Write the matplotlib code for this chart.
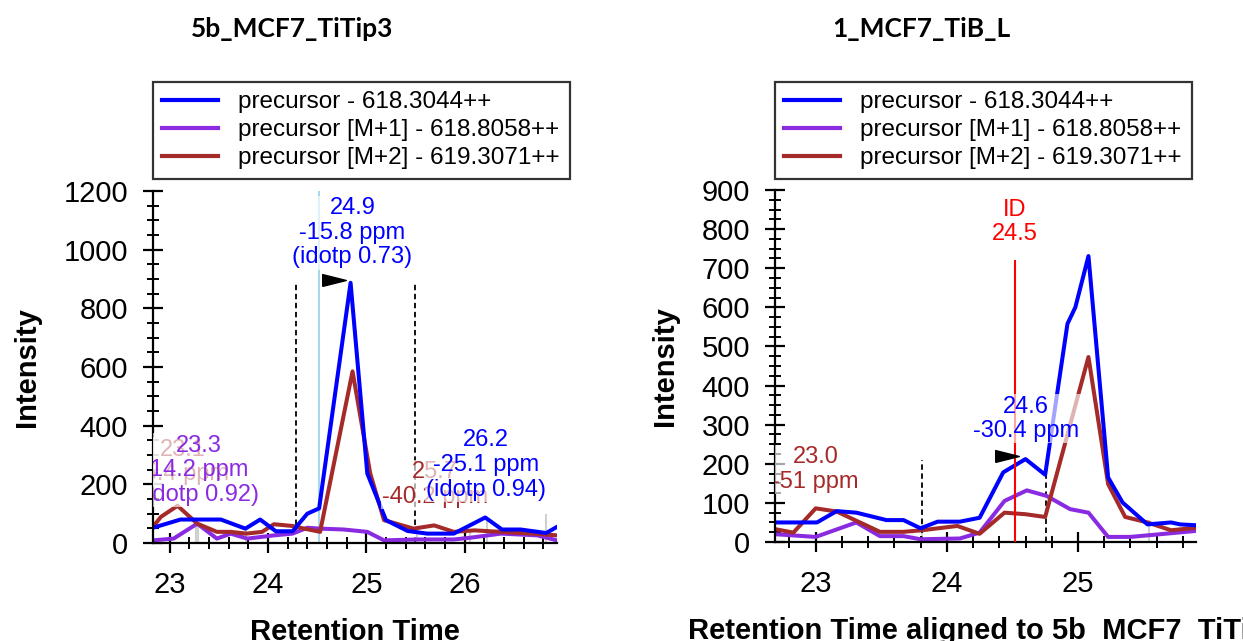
import matplotlib
matplotlib.use("Agg")
import matplotlib.pyplot as plt
from matplotlib.ticker import MultipleLocator

plt.rcParams['font.family'] = ['Liberation Sans', 'DejaVu Sans']

BLUE = '#0000ff'
PURPLE = '#8a2be2'
BROWN = '#a52a2a'
names = ['precursor - 618.3044++', 'precursor [M+1] - 618.8058++', 'precursor [M+2] - 619.3071++']

# ---- left panel: 5b_MCF7_TiTip3
L_blue_t = [22.83, 23.11, 23.52, 23.77, 23.92, 24.08, 24.25, 24.40, 24.52, 24.84, 25.01, 25.20, 25.42, 25.62, 25.89, 26.21, 26.38, 26.57, 26.83, 26.94]
L_blue_i = [52, 80, 80, 49, 80, 40, 40, 100, 118, 887, 237, 78, 41, 32, 32, 87, 46, 46, 34, 55]
L_purp_t = [22.83, 23.04, 23.28, 23.48, 23.62, 23.79, 24.06, 24.25, 24.40, 24.53, 24.77, 25.01, 25.18, 25.52, 25.89, 26.06, 26.37, 26.74, 26.94]
L_purp_i = [9, 15, 66, 15, 32, 15, 26, 32, 52, 49, 46, 38, 9, 12, 12, 18, 32, 26, 9]
L_brwn_t = [22.83, 22.91, 23.08, 23.28, 23.48, 23.62, 23.78, 23.94, 24.06, 24.25, 24.37, 24.53, 24.86, 25.04, 25.18, 25.48, 25.69, 25.89, 26.10, 26.37, 26.70, 26.94]
L_brwn_i = [55, 89, 127, 66, 38, 38, 32, 38, 64, 58, 49, 38, 585, 237, 78, 49, 60, 38, 43, 38, 32, 26]
L_bounds = [24.28, 25.50]
L_bound_h = 888
L_id_t = 24.52
L_gray_t = [23.27, 23.29, 23.78, 25.52, 26.05, 26.23, 26.83]
L_gray_h = [66, 66, 50, 45, 40, 90, 100]
L_arrow = (24.667, 898)
L_labels = [  # text, t, intensity, colour
    ('23.1\n-5.4 ppm', 23.13, 276, BROWN),
    ('23.3\n14.2 ppm\n(idotp 0.92)', 23.30, 248, PURPLE),
    ('25.7\n-40.2 ppm', 25.70, 200, BROWN),
    ('26.2\n-25.1 ppm\n(idotp 0.94)', 26.22, 266, BLUE),
    ('24.9\n-15.8 ppm\n(idotp 0.73)', 24.86, 1058, BLUE),
]

# ---- right panel: 1_MCF7_TiB_L
R_blue_t = [22.69, 23.01, 23.16, 23.31, 23.54, 23.67, 23.80, 23.93, 24.10, 24.25, 24.43, 24.60, 24.75, 24.92, 24.98, 25.08, 25.23, 25.34, 25.53, 25.71, 25.78, 25.89]
R_blue_i = [50, 50, 79, 75, 56, 56, 35, 52, 52, 62, 178, 212, 172, 558, 600, 731, 165, 101, 45, 50, 45, 43]
R_purp_t = [22.69, 23.00, 23.31, 23.49, 23.67, 23.80, 24.10, 24.25, 24.44, 24.61, 24.76, 24.94, 25.08, 25.23, 25.40, 25.63, 25.89]
R_purp_i = [20, 13, 50, 15, 15, 7, 9, 24, 105, 132, 118, 84, 75, 13, 13, 20, 28]
R_brwn_t = [22.69, 22.83, 23.00, 23.16, 23.49, 23.67, 23.81, 24.08, 24.25, 24.44, 24.60, 24.75, 25.08, 25.23, 25.36, 25.53, 25.71, 25.89]
R_brwn_i = [33, 24, 86, 78, 26, 26, 30, 41, 21, 75, 71, 64, 473, 148, 64, 50, 30, 36]
R_bounds = [23.81, 24.76]
R_bound_h = [210, 180]
R_id_t = 24.52
R_id_h = 720
R_gray_t = [23.81, 25.54]
R_gray_h = [60, 55]
R_arrow = (24.457, 220)
R_labels = [
    ('23.0\n-51 ppm', 23.00, 185, BROWN),
    ('24.6\n-30.4 ppm', 24.605, 315, BLUE),
]

W, H = 1243, 641
fig = plt.figure(figsize=(W / 100, H / 100), dpi=100)


def px_axes(x0, x1, y0, y1):
    return fig.add_axes([x0 / W, 1 - y1 / H, (x1 - x0) / W, (y1 - y0) / H])


def style(ax, xlim, ymax, ystep, xlabel):
    ax.set_xlim(*xlim)
    ax.set_ylim(0, ymax)
    for s in ['top', 'right']:
        ax.spines[s].set_visible(False)
    for s in ['left', 'bottom']:
        ax.spines[s].set_linewidth(1.6)
    ax.xaxis.set_major_locator(MultipleLocator(1))
    ax.xaxis.set_minor_locator(MultipleLocator(0.2))
    ax.yaxis.set_major_locator(MultipleLocator(ystep))
    ax.yaxis.set_minor_locator(MultipleLocator(ystep / 4))
    ax.tick_params(which='major', direction='inout', length=14, width=1.6, labelsize=21, pad=11)
    ax.tick_params(which='minor', direction='inout', length=8, width=1.4)
    ax.tick_params(axis='x', which='major', pad=13)
    ax.set_ylabel('Intensity', fontsize=21, fontweight='bold', labelpad=16)
    ax.set_xlabel(xlabel, fontsize=21, fontweight='bold', labelpad=14)


def series(ax, data):
    ax.plot(data[1][0], data[1][1], color=PURPLE, lw=2.9, zorder=2.2)
    ax.plot(data[2][0], data[2][1], color=BROWN, lw=2.9, zorder=2.3)
    ax.plot(data[0][0], data[0][1], color=BLUE, lw=2.9, zorder=2.4)


def labels(ax, items):
    for k, (txt, t, y, c) in enumerate(items):
        ax.text(t, y, txt, color=c, fontsize=17, ha='center', va='center',
                linespacing=1.15, clip_on=True, zorder=4 + k,
                bbox=dict(fc='white', ec='none', alpha=0.65, pad=1))


def legend(ax, x0, x1, y0, y1):
    hs = [plt.Line2D([], [], color=c, lw=3) for c in [BLUE, PURPLE, BROWN]]
    lg = ax.legend(hs, names, loc='upper left', mode='expand',
                   bbox_to_anchor=(x0 / W, 1 - y1 / H, (x1 - x0) / W, (y1 - y0) / H),
                   bbox_transform=fig.transFigure, fontsize=17.5, frameon=True,
                   fancybox=False, borderaxespad=0, handlelength=2.3,
                   handletextpad=0.8, labelspacing=0.25, borderpad=0.38)
    lg.get_frame().set_edgecolor('black')
    lg.get_frame().set_linewidth(1.6)


arrow_marker = [(-1, -0.5), (1, 0), (-1, 0.5), (-1, -0.5)]

# left
ax1 = px_axes(153, 557, 191, 543)
style(ax1, (22.83, 26.94), 1200, 200, 'Retention Time')
ax1.vlines(L_gray_t, 0, L_gray_h, colors='#d0d0d0', lw=1.5, zorder=1.5)
ax1.vlines(L_id_t, 0, 1200, colors='#a8d8ea', lw=1.5, zorder=1.6)
ax1.vlines(L_bounds, 0, L_bound_h, colors='black', lw=1.3, linestyles=(0, (3, 2)), zorder=1.7)
series(ax1, [(L_blue_t, L_blue_i), (L_purp_t, L_purp_i), (L_brwn_t, L_brwn_i)])
ax1.plot(*L_arrow, marker=arrow_marker, color='black', ms=17, zorder=3)
labels(ax1, L_labels)
legend(ax1, 153, 570, 82, 177)

# right
ax2 = px_axes(775, 1196, 190, 542)
style(ax2, (22.69, 25.9), 900, 100, 'Retention Time aligned to 5b_MCF7_TiTip3')
ax2.vlines(R_gray_t, 0, R_gray_h, colors='#d0d0d0', lw=1.5, zorder=1.5)
ax2.vlines(R_bounds, 0, R_bound_h, colors='black', lw=1.3, linestyles=(0, (3, 2)), zorder=1.7)
series(ax2, [(R_blue_t, R_blue_i), (R_purp_t, R_purp_i), (R_brwn_t, R_brwn_i)])
ax2.vlines(R_id_t, 0, R_id_h, colors='red', lw=1.5, zorder=2.6)
ax2.text(R_id_t, 818, 'ID\n24.5', color='red', fontsize=17, ha='center', va='center', linespacing=1.15)
ax2.plot(*R_arrow, marker=arrow_marker, color='black', ms=17, zorder=3)
labels(ax2, R_labels)
legend(ax2, 775, 1192, 82, 177)

title_font = ['Liberation Sans Narrow', 'Lato', 'DejaVu Sans']
fig.text(292 / W, 1 - 29 / H, '5b_MCF7_TiTip3', ha='center', va='center', fontsize=19,
         fontweight='bold', family=title_font)
fig.text(921 / W, 1 - 29 / H, '1_MCF7_TiB_L', ha='center', va='center', fontsize=19,
         fontweight='bold', family=title_font)

fig.savefig('out.png', dpi=100)
